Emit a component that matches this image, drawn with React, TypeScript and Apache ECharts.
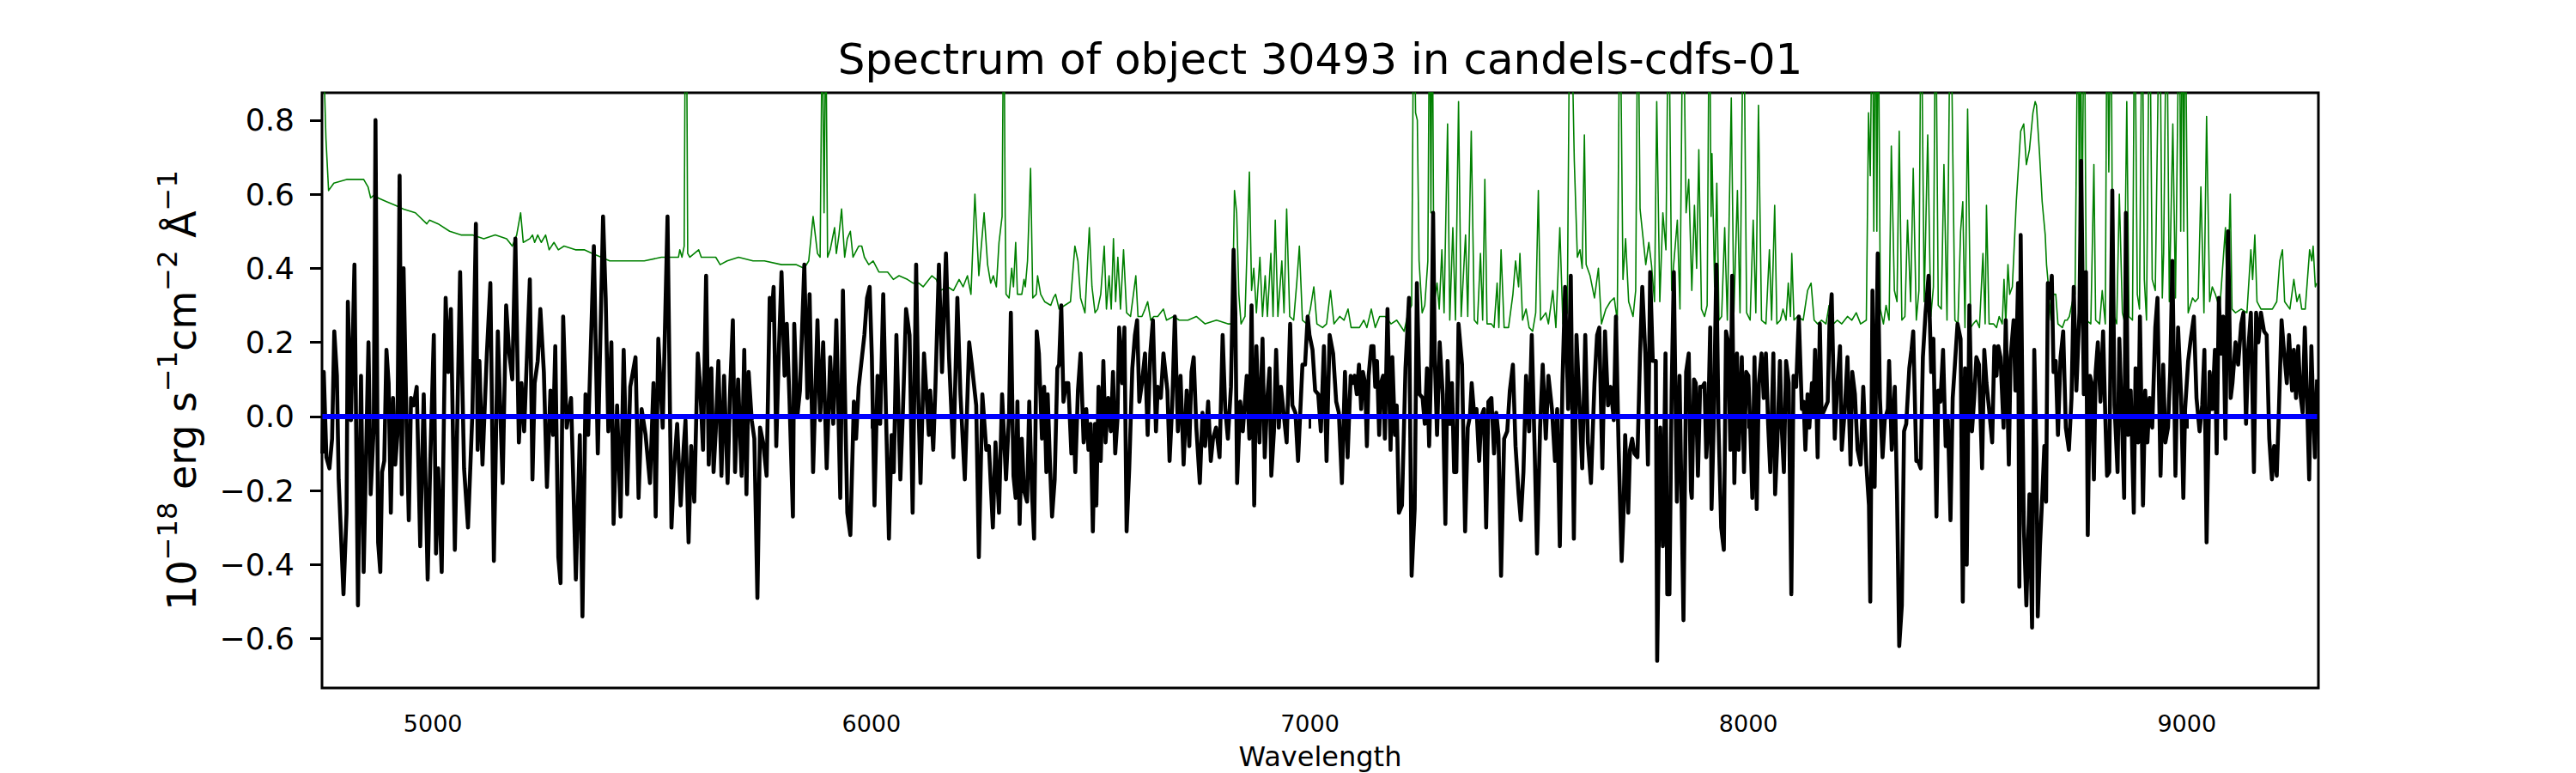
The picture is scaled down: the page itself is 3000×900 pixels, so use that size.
import React, { useEffect, useRef } from "react";
import * as echarts from "echarts";

const TITLE = "Spectrum of object 30493 in candels-cdfs-01";
const X_LABEL = "Wavelength";
const X_TICKS = [5000, 6000, 7000, 8000, 9000];
const Y_TICKS = [-0.6, -0.4, -0.2, 0.0, 0.2, 0.4, 0.6, 0.8];
const X_MIN = 4747;
const X_MAX = 9300;
const Y_MIN = -0.733;
const Y_MAX = 0.874;
const ZERO_LEVEL = 0;

// [wavelength (Å), flux (1e-18 erg s^-1 cm^-2 Å^-1)]
const fluxSpectrum: [number, number][] = [
  [4748, -0.1], [4751, 0.12], [4757, -0.11], [4764, -0.14], [4770, -0.06], [4775, 0.23], [4781, 0.11], [4785, -0.17],
  [4796, -0.48], [4803, -0.26], [4806, 0.31], [4813, -0.01], [4821, 0.41], [4829, -0.51], [4836, 0.11], [4842, -0.42],
  [4849, -0.02], [4853, 0.2], [4858, -0.21], [4865, -0.03], [4869, 0.8], [4875, -0.34], [4880, -0.42], [4884, -0.15],
  [4889, -0.12], [4894, 0.18], [4899, 0.09], [4904, -0.26], [4909, 0.05], [4914, -0.13], [4919, -0.05], [4924, 0.65],
  [4929, -0.21], [4933, 0.4], [4940, -0.03], [4945, -0.28], [4950, 0.05], [4956, 0.03], [4963, 0.08], [4971, -0.35],
  [4979, 0.06], [4988, -0.44], [4994, -0.12], [5002, 0.22], [5007, -0.37], [5012, -0.14], [5020, -0.42], [5029, 0.32],
  [5035, 0.12], [5041, 0.29], [5050, -0.36], [5062, 0.39], [5071, -0.14], [5080, -0.3], [5090, 0.01], [5098, 0.52],
  [5102, -0.09], [5106, 0.15], [5113, -0.13], [5123, 0.17], [5131, 0.36], [5139, -0.39], [5148, 0.23], [5159, -0.18],
  [5167, 0.3], [5174, 0.17], [5181, 0.1], [5188, 0.48], [5196, -0.07], [5202, 0.09], [5208, -0.04], [5221, 0.37],
  [5227, -0.17], [5232, 0.09], [5239, 0.15], [5245, 0.29], [5253, 0.12], [5260, -0.19], [5268, 0.07], [5274, -0.05],
  [5279, 0.19], [5286, -0.38], [5291, -0.45], [5297, 0.27], [5305, -0.03], [5315, 0.05], [5326, -0.44], [5335, -0.05],
  [5341, -0.54], [5348, 0.06], [5354, -0.05], [5367, 0.46], [5376, -0.1], [5388, 0.54], [5394, 0.32], [5400, -0.04],
  [5407, 0.2], [5412, -0.29], [5420, 0.03], [5428, -0.27], [5435, 0.18], [5443, -0.21], [5450, 0.08], [5462, 0.16],
  [5469, -0.22], [5476, 0.02], [5485, -0.05], [5495, -0.18], [5503, 0.09], [5508, -0.27], [5514, 0.21],
  [5524, -0.03], [5535, 0.54], [5544, -0.3], [5550, -0.14], [5557, -0.02], [5565, -0.24], [5572, -0.08], [5576, -0.01],
  [5583, -0.34], [5589, -0.08], [5596, -0.23], [5604, 0.17], [5609, 0.09], [5616, -0.09], [5623, 0.38], [5629, -0.13],
  [5635, 0.13], [5640, -0.15], [5645, -0.04], [5651, 0.15], [5658, -0.16], [5664, 0.11], [5672, -0.18], [5678, 0.08],
  [5684, 0.26], [5689, -0.15], [5696, 0.1], [5704, -0.16], [5710, 0.18], [5715, -0.21], [5720, 0.12], [5727, -0.01],
  [5733, -0.06], [5740, -0.49], [5746, -0.03], [5753, -0.07], [5761, -0.16], [5768, 0.32], [5772, 0.26], [5777, 0.35],
  [5783, -0.08], [5789, 0.18], [5795, 0.39], [5802, 0.11], [5807, 0.25], [5813, 0.05], [5821, -0.27], [5824, 0.25],
  [5831, 0.0], [5837, 0.07], [5847, 0.41], [5854, 0.05], [5859, 0.33], [5867, -0.15], [5877, 0.26], [5883, -0.01],
  [5890, 0.2], [5898, -0.14], [5906, 0.16], [5913, -0.02], [5920, 0.26], [5929, -0.22], [5935, 0.34], [5945, -0.26],
  [5952, -0.32], [5960, 0.04], [5965, -0.06], [5971, 0.08], [5984, 0.22], [5990, 0.32], [5996, 0.35], [6001, 0.16],
  [6007, -0.24], [6014, 0.11], [6020, -0.02], [6027, 0.33], [6033, 0.02], [6040, -0.33], [6046, -0.05], [6051, -0.15],
  [6057, 0.22], [6066, -0.17], [6072, 0.02], [6079, 0.29], [6087, 0.22], [6094, -0.26], [6102, 0.41], [6107, 0.05],
  [6112, -0.18], [6120, 0.17], [6131, -0.05], [6134, 0.07], [6141, -0.09], [6146, 0.08], [6154, 0.41], [6161, 0.12],
  [6170, 0.44], [6177, 0.16], [6187, -0.11], [6196, 0.32], [6203, 0.06], [6213, -0.17], [6223, 0.2], [6229, 0.14],
  [6239, 0.03], [6245, -0.38], [6253, 0.06], [6262, -0.09], [6268, -0.08], [6277, -0.3], [6283, -0.07], [6291, -0.26],
  [6298, 0.06],
  [6307, -0.17], [6314, 0.01], [6318, 0.28], [6324, -0.16], [6329, -0.22], [6333, 0.04], [6338, -0.29], [6343, -0.06],
  [6348, -0.2], [6355, -0.23], [6360, 0.04], [6366, -0.2], [6371, -0.33], [6377, 0.23], [6382, 0.17], [6389, -0.06],
  [6394, 0.08], [6399, -0.15], [6402, 0.06], [6407, -0.12], [6412, -0.27], [6418, -0.17], [6424, 0.13], [6428, 0.14],
  [6433, 0.3], [6438, 0.04], [6444, 0.09], [6449, 0.09], [6456, -0.1], [6461, 0.0], [6465, -0.15], [6471, 0.07],
  [6477, 0.17], [6484, -0.07], [6490, 0.02], [6495, -0.09], [6500, -0.02], [6505, -0.31], [6510, -0.02], [6513, -0.24],
  [6518, 0.08], [6523, -0.12], [6529, 0.15], [6534, -0.07], [6540, 0.05], [6546, -0.04], [6551, 0.12], [6556, -0.1],
  [6561, -0.01], [6565, 0.24], [6572, 0.09], [6577, 0.24], [6582, -0.31], [6588, -0.14], [6595, 0.13], [6601, 0.22],
  [6606, 0.26], [6611, 0.04], [6617, 0.09], [6624, 0.17], [6630, -0.05], [6636, 0.17], [6642, 0.26], [6649, -0.04],
  [6653, 0.08], [6660, 0.05], [6666, 0.17], [6675, 0.07], [6680, -0.12], [6686, 0.03], [6692, 0.27], [6699, -0.04],
  [6705, 0.11], [6712, -0.13], [6719, 0.07], [6725, -0.08], [6730, 0.12], [6735, 0.16], [6741, -0.03], [6749, -0.18],
  [6755, 0.01], [6761, -0.08], [6768, 0.04], [6774, -0.12], [6779, -0.06], [6786, -0.03], [6794, -0.11], [6801, 0.22],
  [6807, 0.02], [6813, -0.06], [6820, 0.08], [6826, 0.45], [6830, 0.28], [6834, -0.18], [6841, 0.04], [6847, -0.04],
  [6856, 0.11], [6862, -0.06], [6867, 0.3], [6873, -0.24], [6878, 0.19], [6885, -0.07], [6892, 0.21], [6897, -0.11],
  [6903, 0.05], [6908, 0.13], [6912, -0.16], [6918, -0.04], [6923, 0.18], [6929, -0.03], [6934, 0.08], [6940, 0.01],
  [6947, -0.07], [6955, 0.25], [6960, 0.03], [6967, 0.01], [6973, -0.12], [6983, 0.14], [6989, 0.14], [6995, 0.27],
  [6999, 0.22], [7006, 0.18], [7012, 0.07], [7019, 0.06], [7025, -0.04], [7032, 0.19], [7038, -0.12], [7045, 0.22],
  [7053, 0.17], [7060, 0.04], [7066, 0.01], [7073, -0.18], [7080, 0.12], [7086, -0.11],
  [7093, 0.11], [7097, 0.09], [7102, 0.11], [7107, 0.06], [7112, 0.14], [7117, 0.02], [7121, 0.12], [7126, 0.09],
  [7130, -0.08], [7134, 0.11], [7140, 0.19], [7145, 0.19], [7149, 0.08], [7153, 0.15], [7158, -0.05], [7162, 0.09],
  [7167, 0.11], [7171, -0.06], [7177, 0.29], [7184, -0.09], [7188, 0.16], [7194, -0.05], [7198, 0.03], [7203, -0.26],
  [7210, -0.24], [7218, 0.13], [7226, 0.32], [7232, -0.43], [7239, -0.25], [7244, 0.36], [7250, 0.06], [7257, 0.05],
  [7262, -0.02], [7267, 0.13], [7272, -0.08], [7277, 0.17], [7281, 0.55], [7285, 0.15], [7290, -0.05], [7296, 0.2],
  [7303, 0.06], [7309, -0.29], [7314, 0.15], [7319, -0.02], [7324, 0.09], [7329, -0.15], [7334, -0.15], [7339, 0.25],
  [7347, 0.14], [7354, -0.31], [7360, -0.03], [7365, 0.0], [7369, 0.09], [7375, 0.0], [7380, 0.02], [7386, -0.12],
  [7391, 0.0], [7397, 0.02], [7402, -0.3], [7407, 0.04], [7414, 0.05], [7420, -0.1], [7425, 0.01], [7430, -0.05],
  [7436, -0.43], [7443, -0.06], [7450, -0.04], [7456, 0.07], [7463, 0.14], [7469, -0.08], [7476, -0.21], [7481, -0.28],
  [7487, -0.15], [7493, 0.11], [7500, -0.04], [7506, 0.22], [7513, -0.11], [7518, -0.37], [7525, -0.03], [7531, 0.14],
  [7538, -0.06], [7544, 0.11], [7552, 0.02], [7559, -0.12], [7564, 0.02], [7570, -0.35], [7576, 0.09], [7582, 0.35],
  [7589, 0.02], [7595, 0.38], [7602, -0.33], [7608, 0.22], [7615, 0.03], [7621, -0.14], [7628, 0.22], [7634, -0.07],
  [7641, -0.18], [7649, 0.09], [7655, 0.22], [7660, 0.24], [7667, -0.14], [7673, 0.23], [7680, 0.03], [7686, 0.08],
  [7693, -0.01], [7698, 0.27], [7704, -0.08], [7711, -0.39], [7715, -0.27], [7719, -0.05], [7726, -0.26], [7730, -0.09],
  [7735, -0.06], [7740, -0.1], [7747, -0.11], [7753, 0.17], [7758, 0.35], [7765, 0.17], [7771, -0.13], [7776, 0.39],
  [7782, 0.15], [7789, 0.15], [7792, -0.66], [7799, -0.03], [7805, -0.35], [7811, 0.17], [7815, -0.48], [7820, -0.48],
  [7825, 0.07], [7830, 0.39], [7837, -0.23], [7843, 0.11], [7852, -0.55], [7858, 0.12], [7864, 0.17], [7869, -0.2],
  [7871, -0.22], [7876, 0.1], [7880, 0.09], [7885, -0.16], [7890, 0.08], [7895, 0.08], [7900, 0.09], [7904, -0.11],
  [7908, -0.03], [7913, 0.24], [7916, -0.25], [7921, -0.02], [7927, 0.41], [7932, -0.03], [7938, -0.3], [7944, -0.36],
  [7949, 0.23], [7954, 0.2], [7959, -0.09], [7963, 0.38], [7968, -0.18], [7974, 0.17], [7978, -0.09], [7985, 0.16],
  [7990, -0.15], [7995, 0.12], [8000, 0.11], [8004, -0.02], [8009, -0.22], [8014, 0.16], [8019, -0.25], [8024, 0.09],
  [8030, 0.17], [8035, 0.05], [8040, 0.17], [8045, -0.02], [8050, -0.15], [8057, 0.17], [8061, -0.21], [8066, -0.07],
  [8072, 0.15], [8076, -0.03], [8081, -0.15], [8086, 0.15], [8092, 0.09], [8098, -0.48], [8103, 0.11], [8109, 0.08],
  [8115, 0.27], [8122, 0.02], [8126, 0.04], [8130, -0.09], [8135, 0.06], [8139, -0.03], [8145, 0.09], [8148, 0.01],
  [8152, 0.18], [8158, -0.11], [8163, 0.25], [8167, 0.0], [8174, 0.02], [8181, 0.04], [8185, 0.25], [8190, 0.33],
  [8197, -0.06], [8203, 0.09], [8209, 0.19], [8213, -0.09], [8220, 0.02], [8226, 0.16], [8233, -0.13], [8237, 0.12],
  [8243, 0.06], [8249, -0.09], [8256, -0.13], [8262, 0.08], [8269, -0.13], [8275, -0.24], [8278, -0.5], [8283, 0.34],
  [8288, -0.19], [8295, 0.44], [8300, 0.05], [8306, -0.11], [8311, -0.01], [8318, 0.02], [8321, 0.15], [8327, -0.09],
  [8334, 0.08], [8339, -0.21], [8344, -0.62], [8350, -0.51], [8355, -0.04], [8360, -0.02], [8367, 0.13], [8372, 0.18],
  [8376, 0.23], [8383, -0.12], [8387, -0.12], [8393, -0.14], [8398, 0.16], [8404, 0.28], [8411, 0.38], [8417, 0.12],
  [8422, 0.21], [8429, -0.27], [8433, 0.07], [8438, 0.04], [8444, 0.18], [8450, -0.08], [8455, -0.01], [8461, -0.28],
  [8466, 0.05], [8471, 0.14], [8477, 0.25], [8484, 0.21], [8489, -0.5], [8494, 0.13], [8498, -0.4], [8504, 0.3],
  [8510, -0.04], [8515, 0.05], [8520, 0.16], [8526, 0.14], [8533, -0.14], [8538, 0.18], [8543, 0.09], [8549, 0.02],
  [8556, -0.07], [8561, 0.19], [8566, 0.11], [8570, 0.19], [8575, 0.16], [8582, -0.03], [8587, 0.26], [8594, -0.13],
  [8598, 0.16], [8605, 0.26], [8609, 0.07], [8615, 0.36], [8618, -0.46], [8621, 0.49], [8628, -0.29], [8634, -0.51],
  [8641, -0.21], [8647, -0.57], [8652, 0.18],
  [8657, -0.09], [8660, -0.54], [8665, -0.35], [8670, -0.22], [8675, -0.08], [8679, -0.23], [8683, 0.36], [8688, 0.32],
  [8692, 0.38], [8696, 0.12], [8701, 0.15], [8706, -0.05], [8712, 0.16], [8718, 0.23], [8724, -0.03], [8731, -0.09],
  [8737, 0.05], [8742, 0.35], [8748, 0.07], [8755, 0.28], [8759, 0.69], [8765, 0.06], [8770, 0.39], [8774, -0.32],
  [8779, 0.11], [8783, 0.09], [8788, -0.17], [8792, 0.12], [8797, 0.2], [8803, 0.04], [8809, 0.23], [8814, 0.0],
  [8818, -0.16], [8823, -0.15], [8830, 0.61], [8835, 0.03], [8842, -0.15], [8846, 0.21], [8853, -0.05], [8857, -0.22],
  [8861, 0.55], [8866, -0.05], [8872, 0.07], [8879, -0.26], [8883, 0.13], [8889, -0.07], [8893, 0.27], [8900, -0.24],
  [8905, 0.07], [8910, -0.07], [8915, 0.05], [8921, -0.03], [8928, 0.24], [8933, 0.32], [8940, -0.16], [8946, 0.14],
  [8951, -0.07], [8957, -0.03], [8962, 0.12], [8967, 0.42], [8974, -0.16], [8980, 0.24], [8987, 0.05], [8992, -0.22],
  [8996, 0.02], [9003, 0.15], [9009, 0.21], [9016, 0.27], [9022, 0.05], [9029, -0.04], [9035, 0.03], [9040, 0.18],
  [9045, -0.34], [9052, 0.12], [9058, 0.02], [9064, 0.18], [9068, -0.1], [9073, 0.32], [9078, 0.17], [9083, 0.27],
  [9088, -0.06], [9094, 0.5], [9100, 0.05], [9104, 0.09], [9111, 0.2], [9117, 0.14], [9124, 0.25], [9129, 0.28],
  [9135, -0.02], [9140, 0.18], [9146, 0.28], [9153, -0.15], [9158, 0.28], [9163, 0.2], [9169, 0.28], [9176, 0.23],
  [9182, 0.22], [9188, -0.06], [9194, -0.17], [9199, -0.08], [9205, -0.16], [9210, 0.02], [9216, 0.26], [9222, 0.17],
  [9228, 0.09], [9233, 0.22], [9240, 0.07], [9244, 0.18], [9249, 0.05], [9254, 0.19], [9259, 0.06], [9264, 0.01],
  [9269, 0.24], [9274, 0.05], [9279, -0.17], [9284, 0.19], [9288, 0.03], [9292, -0.11], [9297, 0.1],
];

// [wavelength (Å), noise / sky level]
const noiseSpectrum: [number, number][] = [
  [4750, 1.0], [4756, 0.75], [4762, 0.61], [4774, 0.63], [4803, 0.64], [4822, 0.64], [4842, 0.64], [4852, 0.62],
  [4858, 0.59], [4868, 0.6], [4875, 0.59], [4894, 0.58], [4914, 0.57], [4933, 0.56], [4960, 0.55], [4986, 0.52],
  [4992, 0.53], [5012, 0.52], [5038, 0.5], [5064, 0.49], [5090, 0.49], [5116, 0.48], [5142, 0.49], [5168, 0.48],
  [5181, 0.46], [5191, 0.49], [5200, 0.55], [5206, 0.47], [5221, 0.48], [5227, 0.49], [5232, 0.47], [5239, 0.49],
  [5247, 0.47], [5257, 0.49], [5265, 0.45], [5276, 0.47], [5286, 0.45], [5299, 0.46], [5325, 0.45], [5345, 0.45],
  [5364, 0.44], [5384, 0.43], [5403, 0.42], [5429, 0.42], [5456, 0.42], [5482, 0.42], [5521, 0.43], [5544, 0.43],
  [5560, 0.43], [5563, 0.45], [5568, 0.43], [5573, 0.46], [5576, 1.2], [5578, 1.2], [5581, 0.44], [5586, 0.43],
  [5596, 0.44], [5606, 0.45], [5612, 0.43], [5625, 0.43], [5645, 0.43], [5655, 0.41], [5671, 0.42], [5697, 0.43],
  [5730, 0.42], [5756, 0.42], [5795, 0.41], [5828, 0.41], [5847, 0.4], [5857, 0.42], [5867, 0.54], [5877, 0.44],
  [5883, 0.43], [5888, 1.1], [5892, 0.55], [5896, 1.1], [5900, 0.43], [5906, 0.45], [5916, 0.51], [5920, 0.44],
  [5926, 0.49], [5932, 0.56], [5939, 0.43], [5945, 0.48], [5952, 0.5], [5958, 0.43], [5971, 0.46], [5978, 0.46],
  [5984, 0.43], [5994, 0.41], [6004, 0.42], [6017, 0.39], [6037, 0.39], [6050, 0.37], [6063, 0.38], [6082, 0.37],
  [6095, 0.36], [6108, 0.36], [6118, 0.35], [6138, 0.38], [6148, 0.37], [6157, 0.34], [6174, 0.35], [6187, 0.34],
  [6200, 0.37], [6209, 0.35], [6219, 0.38], [6227, 0.33], [6236, 0.6], [6245, 0.38], [6257, 0.55], [6265, 0.41],
  [6272, 0.36], [6278, 0.38], [6285, 0.35], [6291, 0.47], [6298, 0.54], [6302, 1.2], [6305, 0.55], [6307, 0.33],
  [6314, 0.32], [6320, 0.4], [6324, 0.35], [6329, 0.47], [6333, 0.33], [6343, 0.33], [6348, 0.37], [6351, 0.35],
  [6356, 0.42], [6363, 0.67], [6368, 0.32], [6376, 0.33], [6379, 0.38], [6386, 0.33], [6395, 0.31], [6409, 0.3],
  [6415, 0.32], [6420, 0.33], [6428, 0.29], [6441, 0.3], [6454, 0.31], [6464, 0.46], [6471, 0.42], [6477, 0.32],
  [6487, 0.28], [6497, 0.51], [6503, 0.35], [6510, 0.28], [6516, 0.29], [6523, 0.33], [6531, 0.46], [6536, 0.29],
  [6542, 0.38], [6547, 0.29], [6552, 0.48], [6557, 0.31], [6562, 0.43], [6568, 0.29], [6575, 0.45], [6582, 0.28],
  [6591, 0.27], [6603, 0.38], [6608, 0.27], [6617, 0.27], [6624, 0.29], [6630, 0.31], [6637, 0.26], [6644, 0.27],
  [6653, 0.27], [6666, 0.29], [6673, 0.26], [6689, 0.27], [6702, 0.26], [6722, 0.26], [6741, 0.27], [6761, 0.25],
  [6787, 0.26], [6813, 0.25], [6823, 0.25], [6828, 0.61], [6833, 0.55], [6838, 0.33], [6843, 0.25], [6852, 0.27],
  [6862, 0.66], [6867, 0.34], [6872, 0.4], [6878, 0.28], [6886, 0.43], [6892, 0.27], [6898, 0.38], [6903, 0.27],
  [6911, 0.44], [6916, 0.27], [6921, 0.53], [6927, 0.27], [6936, 0.42], [6941, 0.28], [6947, 0.56], [6954, 0.27],
  [6963, 0.26], [6970, 0.36], [6976, 0.46], [6983, 0.26], [6993, 0.25], [7001, 0.29], [7009, 0.35], [7016, 0.25],
  [7029, 0.24], [7038, 0.25], [7047, 0.34], [7055, 0.25], [7068, 0.27], [7078, 0.26], [7087, 0.29], [7094, 0.24],
  [7113, 0.24], [7123, 0.26], [7130, 0.24], [7140, 0.29], [7149, 0.24], [7159, 0.27], [7172, 0.27], [7185, 0.25],
  [7198, 0.26], [7215, 0.23], [7224, 0.28], [7232, 0.3], [7237, 1.2], [7241, 0.82], [7245, 0.8], [7249, 0.42],
  [7256, 0.28], [7262, 0.3], [7269, 0.42], [7273, 1.2], [7276, 0.55], [7279, 1.2], [7283, 0.3], [7290, 0.36],
  [7295, 0.29], [7301, 0.45], [7306, 0.28], [7314, 0.79], [7319, 0.26], [7326, 0.51], [7332, 0.26], [7339, 0.85],
  [7345, 0.27], [7355, 0.49], [7360, 0.27], [7368, 0.77], [7375, 0.26], [7382, 0.25], [7389, 0.44], [7394, 0.26],
  [7399, 0.64], [7404, 0.25], [7414, 0.25], [7420, 0.24], [7427, 0.36], [7431, 0.24], [7436, 0.45], [7443, 0.24],
  [7453, 0.24], [7463, 0.33], [7469, 0.42], [7476, 0.35], [7479, 0.44], [7485, 0.26], [7493, 0.29], [7500, 0.24],
  [7508, 0.23], [7515, 0.28], [7521, 0.61], [7526, 0.26], [7538, 0.28], [7544, 0.25], [7554, 0.34], [7561, 0.24],
  [7570, 0.51], [7577, 0.25], [7587, 0.28], [7593, 1.2], [7598, 1.0], [7603, 0.69], [7610, 0.43], [7616, 0.45],
  [7621, 0.4], [7626, 0.76], [7630, 0.41], [7639, 0.38], [7649, 0.32], [7658, 0.4], [7665, 0.25], [7675, 0.29],
  [7685, 0.31], [7694, 0.32], [7701, 0.26], [7707, 1.2], [7714, 0.37], [7720, 0.48], [7727, 0.31], [7732, 0.29],
  [7737, 0.27], [7743, 0.34], [7748, 1.2], [7753, 0.56], [7760, 0.48], [7766, 0.41], [7773, 0.47], [7779, 0.41],
  [7786, 0.31], [7791, 0.85], [7798, 0.31], [7805, 0.55], [7812, 0.45], [7818, 1.2], [7825, 0.34], [7831, 0.43],
  [7838, 0.53], [7844, 0.29], [7851, 1.2], [7858, 0.55], [7864, 0.64], [7871, 0.34], [7877, 0.57], [7882, 0.4],
  [7887, 0.72], [7893, 0.29], [7900, 0.27], [7906, 0.3], [7911, 1.2], [7915, 0.54], [7917, 0.71], [7923, 0.35],
  [7928, 0.63], [7933, 0.26], [7939, 0.27], [7946, 0.51], [7952, 0.26], [7961, 0.86], [7967, 0.28], [7975, 0.61],
  [7981, 0.28], [7989, 1.2], [7996, 0.28], [8004, 0.26], [8011, 0.53], [8017, 0.28], [8023, 0.84], [8030, 0.26],
  [8040, 0.25], [8048, 0.45], [8053, 0.26], [8060, 0.57], [8065, 0.25], [8073, 0.26], [8079, 0.29], [8086, 0.26],
  [8091, 0.36], [8096, 0.27], [8099, 0.44], [8104, 0.26], [8112, 0.27], [8125, 0.26], [8135, 0.34], [8143, 0.36],
  [8150, 0.26], [8158, 0.25], [8167, 0.26], [8177, 0.25], [8184, 0.3], [8194, 0.25], [8203, 0.26], [8213, 0.25],
  [8226, 0.27], [8236, 0.26], [8246, 0.28], [8256, 0.25], [8269, 0.26], [8274, 0.82], [8278, 0.65], [8283, 1.2],
  [8286, 0.5], [8290, 1.2], [8293, 0.5], [8296, 1.2], [8301, 0.29], [8308, 0.25], [8314, 0.3], [8321, 0.26],
  [8326, 0.73], [8333, 0.34], [8339, 0.31], [8344, 0.77], [8350, 0.26], [8357, 0.27], [8363, 0.53], [8370, 0.31],
  [8376, 0.67], [8383, 0.26], [8389, 0.34], [8394, 1.2], [8401, 0.31], [8409, 0.76], [8416, 0.27], [8422, 0.35],
  [8427, 1.2], [8433, 0.3], [8440, 0.29], [8446, 0.68], [8453, 0.26], [8461, 1.2], [8471, 0.26], [8478, 0.25],
  [8484, 0.5], [8489, 0.58], [8494, 0.24], [8500, 0.83], [8507, 0.24], [8513, 0.25], [8520, 0.26], [8527, 0.24],
  [8535, 0.44], [8540, 0.25], [8543, 0.57], [8549, 0.25], [8559, 0.25], [8566, 0.24], [8572, 0.27], [8579, 0.25],
  [8583, 0.37], [8587, 0.25], [8592, 0.41], [8596, 0.33], [8602, 0.35], [8611, 0.58], [8621, 0.77], [8628, 0.79],
  [8634, 0.68], [8641, 0.72], [8649, 0.82], [8654, 0.85], [8657, 0.84], [8664, 0.71], [8670, 0.58], [8677, 0.49],
  [8680, 0.41], [8683, 0.37], [8690, 0.26], [8696, 0.33], [8701, 0.33], [8706, 0.25], [8716, 0.24], [8722, 0.26],
  [8727, 0.26], [8732, 0.27], [8739, 0.31], [8745, 0.33], [8752, 1.2], [8755, 0.5], [8757, 1.2], [8761, 0.51],
  [8766, 1.2], [8771, 0.26], [8781, 0.25], [8788, 0.68], [8792, 0.26], [8801, 0.25], [8807, 0.34], [8814, 0.25],
  [8818, 1.2], [8822, 0.66], [8827, 1.2], [8831, 0.28], [8840, 0.25], [8846, 0.6], [8853, 0.28], [8857, 0.26],
  [8863, 0.85], [8868, 0.27], [8876, 0.26], [8881, 1.2], [8887, 0.33], [8892, 0.29], [8898, 1.2], [8903, 0.37],
  [8908, 0.26], [8915, 1.2], [8921, 0.37], [8928, 0.34], [8938, 1.2], [8944, 0.32], [8947, 0.44], [8954, 1.2],
  [8960, 0.31], [8968, 0.79], [8974, 0.32], [8983, 1.2], [8986, 0.5], [8990, 1.2], [8993, 0.5], [8996, 1.2],
  [9003, 0.28], [9013, 0.32], [9019, 0.31], [9026, 0.32], [9032, 0.62], [9039, 0.28], [9045, 0.81], [9052, 0.31],
  [9058, 0.35], [9065, 0.33], [9075, 0.29], [9088, 0.51], [9092, 0.3], [9099, 0.6], [9103, 0.29], [9111, 0.28],
  [9124, 0.29], [9137, 0.28], [9146, 0.45], [9150, 0.37], [9155, 0.49], [9160, 0.31], [9169, 0.29], [9182, 0.29],
  [9195, 0.29], [9205, 0.31], [9212, 0.42], [9218, 0.45], [9223, 0.31], [9235, 0.29], [9244, 0.37], [9251, 0.31],
  [9257, 0.33], [9262, 0.29], [9270, 0.29], [9280, 0.45], [9285, 0.42], [9288, 0.46], [9293, 0.35], [9296, 0.36],
];

const FONT = "DejaVu Sans";

export default function App() {
  const ref = useRef<HTMLDivElement>(null);

  useEffect(() => {
    document.body.style.margin = "0";
    document.body.style.overflow = "hidden";
    if (!ref.current) return;
    const chart = echarts.init(ref.current, null, { renderer: "svg" });

    const zeroLine: [number, number][] = [
      [fluxSpectrum[0][0], ZERO_LEVEL],
      [fluxSpectrum[fluxSpectrum.length - 1][0], ZERO_LEVEL],
    ];

    const yName =
      "{m|10}{s|\u221218}{m| erg s}{s|\u22121}{m|cm}{s|\u22122}{m| \u00C5}{s|\u22121}";

    chart.setOption({
      animation: false,
      backgroundColor: "#ffffff",
      textStyle: { fontFamily: FONT },
      title: {
        text: TITLE,
        left: 1537.5,
        top: 44,
        padding: 0,
        textAlign: "center",
        textVerticalAlign: "top",
        textStyle: {
          fontFamily: FONT,
          fontSize: 50,
          lineHeight: 50,
          fontWeight: "normal",
          color: "#000000",
        },
      },
      grid: {
        left: 375,
        top: 108,
        width: 2325,
        height: 693,
        show: true,
        borderColor: "#000000",
        borderWidth: 3,
        backgroundColor: "transparent",
        containLabel: false,
        outerBoundsMode: "none",
      },
      xAxis: {
        type: "value",
        min: X_MIN,
        max: X_MAX,
        name: X_LABEL,
        nameLocation: "middle",
        nameGap: 64,
        nameTextStyle: { fontFamily: FONT, fontSize: 32, lineHeight: 32, color: "#000000" },
        axisLine: { show: false },
        axisTick: {
          show: true,
          inside: false,
          length: 14,
          customValues: X_TICKS,
          lineStyle: { color: "#000000", width: 3 },
        },
        axisLabel: {
          show: true,
          customValues: X_TICKS,
          fontFamily: FONT,
          fontSize: 27,
          lineHeight: 27,
          margin: 28,
          color: "#000000",
          formatter: (v: number) => String(Math.round(v)),
        },
        splitLine: { show: false },
      },
      yAxis: {
        type: "value",
        min: Y_MIN,
        max: Y_MAX,
        name: yName,
        nameLocation: "middle",
        nameRotate: 90,
        nameGap: 132,
        nameTextStyle: {
          fontFamily: FONT,
          color: "#000000",
          rich: {
            m: { fontFamily: FONT, fontSize: 46, lineHeight: 46, color: "#000000" },
            s: {
              fontFamily: FONT,
              fontSize: 32,
              lineHeight: 32,
              padding: [0, 0, 34, 0],
              color: "#000000",
            },
          },
        },
        axisLine: { show: false },
        axisTick: {
          show: true,
          inside: false,
          length: 14,
          customValues: Y_TICKS,
          lineStyle: { color: "#000000", width: 3 },
        },
        axisLabel: {
          show: true,
          customValues: Y_TICKS,
          fontFamily: FONT,
          fontSize: 36,
          margin: 32,
          color: "#000000",
          formatter: (v: number) => v.toFixed(1).replace("-", "\u2212"),
        },
        splitLine: { show: false },
      },
      series: [
        {
          type: "line",
          name: "noise",
          data: noiseSpectrum,
          symbol: "none",
          showSymbol: false,
          clip: true,
          z: 2,
          lineStyle: { color: "#008000", width: 1.6, join: "round" },
          itemStyle: { color: "#008000" },
        },
        {
          type: "line",
          name: "flux",
          data: fluxSpectrum,
          symbol: "none",
          showSymbol: false,
          clip: true,
          z: 3,
          lineStyle: { color: "#000000", width: 4.6, join: "round" },
          itemStyle: { color: "#000000" },
        },
        {
          type: "line",
          name: "zero",
          data: zeroLine,
          symbol: "none",
          showSymbol: false,
          clip: true,
          z: 4,
          lineStyle: { color: "#0000ff", width: 6 },
          itemStyle: { color: "#0000ff" },
        },
      ],
    });

    return () => {
      chart.dispose();
    };
  }, []);

  return <div ref={ref} style={{ width: "3000px", height: "900px" }} />;
}
